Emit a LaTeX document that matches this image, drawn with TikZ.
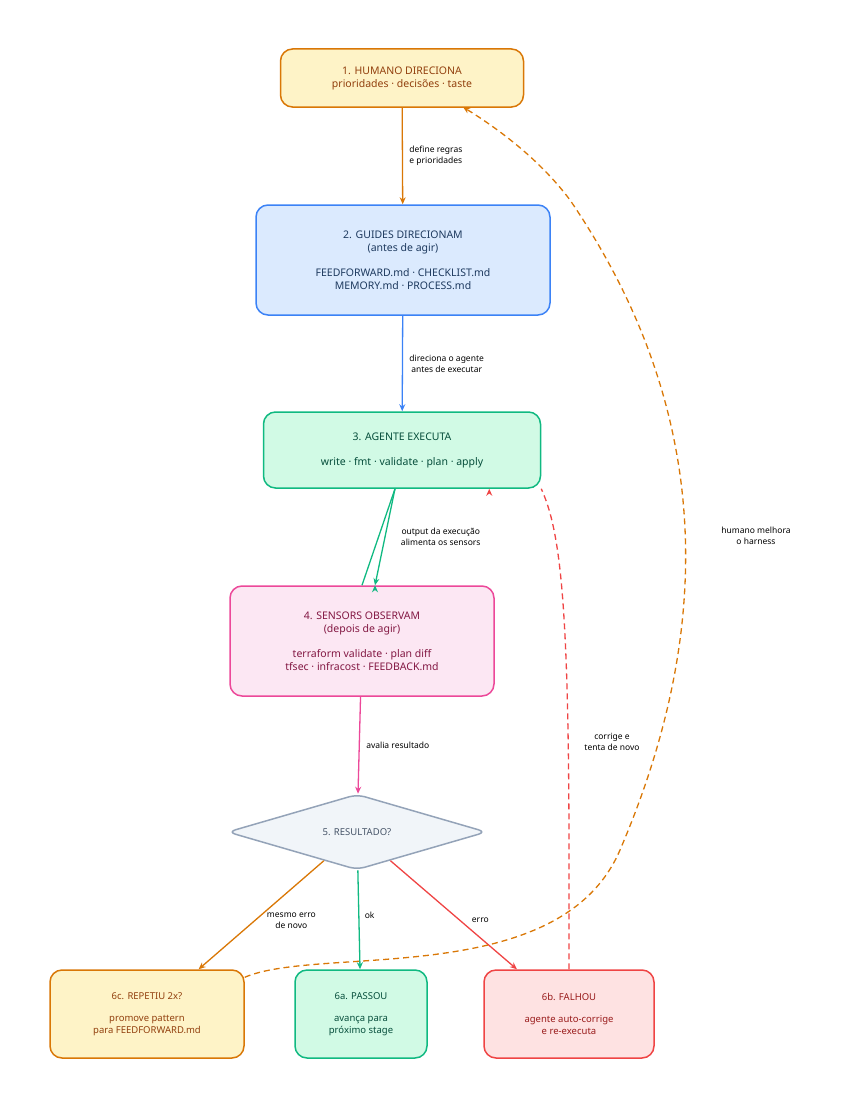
\documentclass[tikz,border=0pt]{standalone}
\usepackage{fontspec}
\setmainfont{Noto Sans}
\usetikzlibrary{shapes.geometric,arrows.meta}
\definecolor{orangeB}{HTML}{D97706}\definecolor{orangeF}{HTML}{FEF3C7}\definecolor{orangeT}{HTML}{92400E}
\definecolor{blueB}{HTML}{3B82F6}\definecolor{blueF}{HTML}{DBEAFE}\definecolor{blueT}{HTML}{1E3A5F}
\definecolor{greenB}{HTML}{10B981}\definecolor{greenF}{HTML}{D1FAE5}\definecolor{greenT}{HTML}{064E3B}
\definecolor{pinkB}{HTML}{EC4899}\definecolor{pinkF}{HTML}{FCE7F3}\definecolor{pinkT}{HTML}{831843}
\definecolor{redB}{HTML}{EF4444}\definecolor{redF}{HTML}{FEE2E2}\definecolor{redT}{HTML}{991B1B}
\definecolor{grayB}{HTML}{94A3B8}\definecolor{grayF}{HTML}{F1F5F9}\definecolor{grayT}{HTML}{475569}
\tikzset{
  box/.style={draw, line width=1.5pt, rounded corners=12pt, align=center, font=\fontsize{10.5}{13}\selectfont, inner sep=0pt},
  lbl/.style={font=\fontsize{8.5}{11}\selectfont, align=center},
  edge/.style={line width=1.3pt, -{Stealth[length=7pt,width=6pt]}}
}
\begin{document}
\begin{tikzpicture}[x=1pt,y=-1pt]
    \useasboundingbox (0,0) rectangle (857,1108);

    % Steps
    \node[box, draw=orangeB, fill=orangeF, text=orangeT, minimum width=243pt, minimum height=58pt] (humano) at (402,78)
        {1. HUMANO DIRECIONA\\prioridades · decisões · taste};
    \node[box, draw=blueB, fill=blueF, text=blueT, minimum width=294pt, minimum height=110pt] (guides) at (403,260)
        {2. GUIDES DIRECIONAM\\(antes de agir)\\[12pt]FEEDFORWARD.md · CHECKLIST.md\\MEMORY.md · PROCESS.md};
    \node[box, draw=greenB, fill=greenF, text=greenT, minimum width=277pt, minimum height=76pt] (agente) at (402,450)
        {3. AGENTE EXECUTA\\[12pt]write · fmt · validate · plan · apply};
    \node[box, draw=pinkB, fill=pinkF, text=pinkT, minimum width=264pt, minimum height=110pt] (sensors) at (362,641)
        {4. SENSORS OBSERVAM\\(depois de agir)\\[12pt]terraform validate · plan diff\\tfsec · infracost · FEEDBACK.md};
    \node[diamond, draw=grayB, fill=grayF, text=grayT, line width=1.5pt, rounded corners=8pt, minimum width=259pt, minimum height=75pt, inner sep=0pt, font=\fontsize{9.5}{12}\selectfont] (resultado) at (357,832)
        {5. RESULTADO?};

    % Outcomes
    \node[box, draw=orangeB, fill=orangeF, text=orangeT, minimum width=194pt, minimum height=88pt, font=\fontsize{9.5}{12}\selectfont] (repetiu) at (147,1014)
        {6c. REPETIU 2x?\\[10pt]promove pattern\\para FEEDFORWARD.md};
    \node[box, draw=greenB, fill=greenF, text=greenT, minimum width=132pt, minimum height=88pt, font=\fontsize{9.5}{12}\selectfont] (passou) at (361,1014)
        {6a. PASSOU\\[10pt]avança para\\próximo stage};
    \node[box, draw=redB, fill=redF, text=redT, minimum width=170pt, minimum height=88pt, font=\fontsize{9.5}{12}\selectfont] (falhou) at (569,1014)
        {6b. FALHOU\\[10pt]agente auto-corrige\\e re-executa};

    % Main flow
    \draw[edge, orangeB] (humano) -- (guides) node[lbl, midway, right=3pt, text=black] {define regras\\e prioridades};
    \draw[edge, blueB] (guides) -- (agente) node[lbl, midway, right=3pt, text=black] {direciona o agente\\antes de executar};
    \draw[edge, greenB] (agente.south) ++(-7,0) coordinate (a3) (a3) -- (sensors.north) ++(13,0) coordinate (s4);
    \draw[edge, greenB] (a3) -- ([xshift=13pt]sensors.north) node[lbl, midway, right=12pt, text=black] {output da execução\\alimenta os sensors};
    \draw[edge, pinkB] (sensors) -- (resultado) node[lbl, midway, right=3pt, text=black] {avalia resultado};

    % Branches
    \draw[edge, orangeB] (resultado) -- (repetiu) node[lbl, pos=0.55, right=8pt, text=black] {mesmo erro\\de novo};
    \draw[edge, greenB] (resultado) -- (passou) node[lbl, pos=0.45, right=2pt, text=black] {ok};
    \draw[edge, redB] (resultado) -- (falhou) node[lbl, pos=0.55, right=8pt, text=black] {erro};

    % Feedback loops
    \draw[edge, redB, dashed, dash pattern=on 6pt off 4pt] (falhou.north) -- (569,860)
        .. controls (569,600) and (560,530) .. (agente.south east) ++(-52,0) coordinate (c3);
    \node[lbl] (corrige) at (612,742) {corrige e\\tenta de novo};
    \draw[edge, orangeB, dashed, dash pattern=on 6pt off 4pt] (repetiu.north east) ++(0,8)
        .. controls (320,945) and (560,990) .. (620,850)
        .. controls (710,640) and (720,420) .. (570,200)
        .. controls (540,160) and (500,130) .. (463,107);
    \node[lbl] (melhora) at (756,536) {humano melhora\\o harness};
\end{tikzpicture}
\end{document}
